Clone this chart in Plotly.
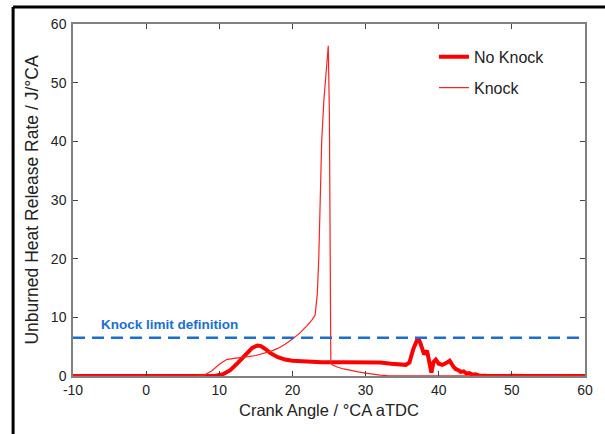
import plotly.graph_objects as go

# ---- data ----
no_knock_ca = [-10, 8, 9.5, 10.5, 11.5, 12.5, 13.5, 14.5, 15.2, 15.7, 16.3, 17, 18, 19, 20, 21, 22,
               24, 27, 30, 32, 33.5, 34.5, 35.5, 36.0, 36.5, 37.0, 37.3, 37.6, 38.0, 38.4, 38.7,
               39.0, 39.3, 39.6, 40.0, 40.5, 41.0, 41.5, 42.0, 42.3, 42.7, 43.0, 43.4, 43.8,
               44.2, 44.6, 45.0, 45.5, 46.5, 48, 52, 60]
no_knock_hrr = [0, 0, 0.05, 0.3, 1.0, 2.2, 3.6, 4.8, 5.2, 5.1, 4.6, 3.9, 3.2, 2.8, 2.6, 2.5, 2.4,
                2.35, 2.35, 2.35, 2.3, 2.1, 1.95, 1.9, 2.3, 4.5, 6.0, 6.2, 5.2, 3.7, 4.3, 2.0,
                0.6, 2.4, 2.8, 2.1, 1.9, 2.2, 2.6, 1.6, 1.2, 1.0, 0.7, 0.8, 0.4,
                0.5, 0.2, 0.3, 0.1, 0.05, 0, 0, 0]

knock_ca = [-10, 7, 8, 9, 10, 11, 12, 13, 14, 15, 16, 17, 18, 19, 20, 21, 22, 22.7, 23.1, 23.4,
            23.6, 23.8, 24.0, 24.3, 24.6, 24.9, 25.05, 25.15, 25.25, 25.4, 25.7, 26.2, 27, 28,
            29, 30, 31, 32, 33, 60]
knock_hrr = [0, 0, 0.2, 0.9, 2.0, 2.8, 3.0, 3.1, 3.3, 3.5, 3.8, 4.2, 4.7, 5.4, 6.3, 7.3, 8.6,
             9.6, 10.4, 14, 20, 30, 40, 47, 52, 56.3, 45, 10, 2.2, 1.9, 1.8, 1.5, 1.2, 0.9,
             0.7, 0.5, 0.3, 0.15, 0.05, 0]

knock_limit = 6.5
x_ticks = [-10, 0, 10, 20, 30, 40, 50, 60]
x_tick_text = ["-10", "0", "10", "20", "30", "40", "50", "60"]
y_ticks = [0, 10, 20, 30, 40, 50, 60]

FONT = "Liberation Sans, Arial, sans-serif"

fig = go.Figure()
fig.add_trace(go.Scatter(x=no_knock_ca, y=no_knock_hrr, mode="lines", name="No Knock",
                         line=dict(color="#ff0000", width=4), legendgroup="a"))
fig.add_trace(go.Scatter(x=knock_ca, y=knock_hrr, mode="lines", name="Knock",
                         line=dict(color="#ff2020", width=1.2), legendgroup="b"))

fig.add_shape(type="line", xref="paper", yref="y", x0=0, x1=1, y0=knock_limit, y1=knock_limit,
              line=dict(color="#1a6fd1", width=2.5, dash="12px,7px"))
fig.add_annotation(x=-6.5, y=8.7, xref="x", yref="y", text="<b>Knock limit definition</b>",
                   showarrow=False, xanchor="left", yanchor="middle",
                   font=dict(family=FONT, size=13.5, color="#1a6fd1"))

# outer border (top and left)
fig.add_shape(type="line", xref="paper", yref="paper", x0=-0.117, x1=-0.117, y0=-0.25, y1=1.048,
              line=dict(color="black", width=3))
fig.add_shape(type="line", xref="paper", yref="paper", x0=-0.117, x1=1.1, y0=1.048, y1=1.048,
              line=dict(color="black", width=3))

axis_common = dict(showgrid=False, zeroline=False, showline=True, linecolor="#808080",
                   linewidth=1.5, mirror="ticks", ticks="inside", ticklen=5, tickwidth=1,
                   tickcolor="#444", tickfont=dict(family=FONT, size=14, color="#222"))

fig.update_xaxes(range=[-10, 60], tickvals=x_ticks, ticktext=x_tick_text,
                 title=dict(text="Crank Angle / °CA aTDC", font=dict(family=FONT, size=16.5, color="#222"),
                            standoff=8), **axis_common)
fig.update_yaxes(range=[0, 60], tickvals=y_ticks, ticklabelstandoff=2,
                 title=dict(text="Unburned Heat Release Rate / J/°CA", font=dict(family=FONT, size=17.5, color="#222"),
                            standoff=8), **axis_common)

fig.update_layout(
    width=605, height=434,
    margin=dict(l=73, r=20, t=24, b=58),
    paper_bgcolor="white", plot_bgcolor="white",
    showlegend=True,
    legend=dict(x=0.705, y=0.955, xanchor="left", yanchor="top", bgcolor="rgba(0,0,0,0)",
                font=dict(family=FONT, size=16, color="#222"), tracegroupgap=7),
)

fig.write_html("out.html")
